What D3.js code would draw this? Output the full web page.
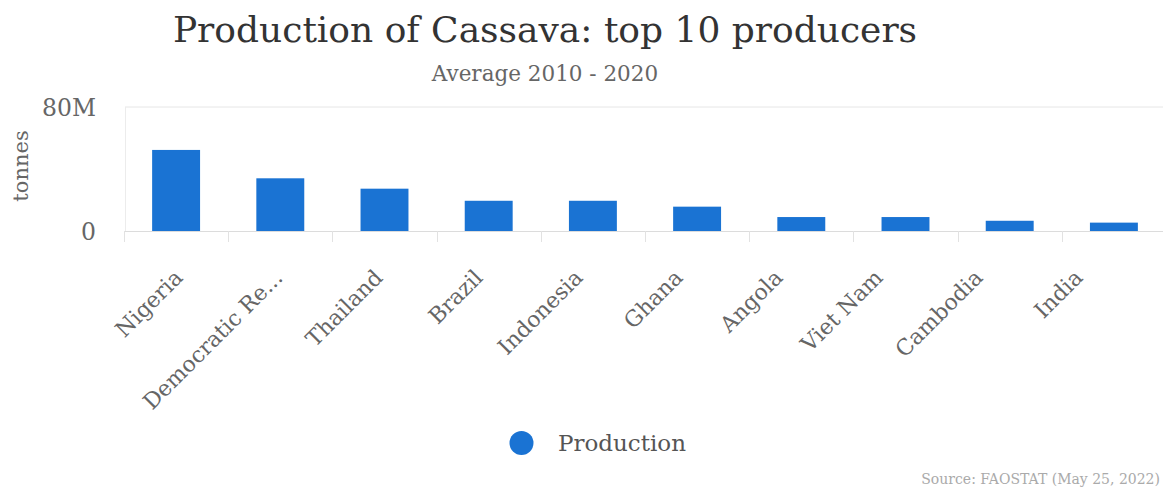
<!DOCTYPE html>
<html>
<head>
<meta charset="utf-8">
<script src="https://cdn.jsdelivr.net/npm/d3@7"></script>
<style>
  html, body { margin: 0; padding: 0; background: #fff; }
  svg { display: block; font-family: "DejaVu Serif", serif; }
</style>
</head>
<body>
<svg id="chart" width="1163" height="489"></svg>
<script>
// Average cassava production 2010-2020, top 10 producers (tonnes)
const countries = ["Nigeria", "Democratic Re...", "Thailand", "Brazil", "Indonesia",
                   "Ghana", "Angola", "Viet Nam", "Cambodia", "India"];
const production = [52300000, 34000000, 27300000, 19500000, 19500000,
                    15700000, 9000000, 9000000, 6600000, 5400000];
const yTicks = [0, 80000000];
const yTickLabels = ["0", "80M"];

const svg = d3.select("#chart");
const W = 1163;

const plot = { left: 124, right: 1166, top: 107, bottom: 231 };

const x = d3.scaleBand()
  .domain(countries)
  .range([plot.left, plot.right])
  .paddingInner(0.54)
  .paddingOuter(0.27);

// category labels sit on their own evenly spaced anchors
const labelX = d3.scalePoint()
  .domain(countries)
  .range([184, 1084]);

const y = d3.scaleLinear()
  .domain([0, 80000000])
  .range([plot.bottom, plot.top]);

// title & subtitle
svg.append("text")
  .attr("x", 545).attr("y", 42)
  .attr("text-anchor", "middle")
  .attr("font-size", 36)
  .attr("fill", "#333")
  .text("Production of Cassava: top 10 producers");

svg.append("text")
  .attr("x", 545).attr("y", 81)
  .attr("text-anchor", "middle")
  .attr("font-size", 21.5)
  .attr("fill", "#666")
  .text("Average 2010 - 2020");

// grid lines
svg.append("g")
  .selectAll("line")
  .data(yTicks.filter(d => d !== 0))
  .join("line")
  .attr("x1", plot.left + 1).attr("x2", W)
  .attr("y1", d => y(d)).attr("y2", d => y(d))
  .attr("stroke", "#e6e6e6").attr("stroke-width", 1);

// left plot edge
svg.append("line")
  .attr("x1", plot.left + 1.5).attr("x2", plot.left + 1.5)
  .attr("y1", plot.top).attr("y2", plot.bottom)
  .attr("stroke", "#ececec");

// y tick labels
svg.append("g")
  .selectAll("text")
  .data(yTicks)
  .join("text")
  .attr("x", 96)
  .attr("y", d => y(d) + 9)
  .attr("text-anchor", "end")
  .attr("font-size", 23.5)
  .attr("fill", "#666")
  .text((d, i) => yTickLabels[i]);

// y axis title
svg.append("text")
  .attr("transform", "translate(28,166) rotate(-90)")
  .attr("text-anchor", "middle")
  .attr("font-size", 21)
  .attr("fill", "#666")
  .text("tonnes");

// bars
svg.append("g")
  .selectAll("rect")
  .data(countries)
  .join("rect")
  .attr("x", d => x(d))
  .attr("width", x.bandwidth())
  .attr("y", (d, i) => y(production[i]))
  .attr("height", (d, i) => y(0) - y(production[i]))
  .attr("fill", "#1a73d3");

// x axis line and band ticks
const xAxis = svg.append("g");
xAxis.append("line")
  .attr("x1", plot.left).attr("x2", W)
  .attr("y1", plot.bottom + 0.5).attr("y2", plot.bottom + 0.5)
  .attr("stroke", "#dcdcdc");

xAxis.selectAll("line.tick")
  .data(countries)
  .join("line")
  .attr("class", "tick")
  .attr("x1", d => Math.round(x(d) - x.step() * x.paddingInner() / 2) + 0.5)
  .attr("x2", d => Math.round(x(d) - x.step() * x.paddingInner() / 2) + 0.5)
  .attr("y1", plot.bottom).attr("y2", plot.bottom + 11)
  .attr("stroke", "#e2e2e2");

// rotated category labels
xAxis.selectAll("text")
  .data(countries)
  .join("text")
  .attr("transform", d => `translate(${labelX(d)},279) rotate(-45)`)
  .attr("text-anchor", "end")
  .attr("font-size", 22)
  .attr("fill", "#666")
  .text(d => d);

// legend
const legend = svg.append("g");
legend.append("circle")
  .attr("cx", 521.5).attr("cy", 443)
  .attr("r", 12)
  .attr("fill", "#1a73d3");
legend.append("text")
  .attr("x", 558).attr("y", 451)
  .attr("font-size", 23)
  .attr("fill", "#555")
  .text("Production");

// source note
svg.append("text")
  .attr("x", 1160).attr("y", 484)
  .attr("text-anchor", "end")
  .attr("font-size", 14)
  .attr("fill", "#aaa")
  .text("Source: FAOSTAT (May 25, 2022)");
</script>
</body>
</html>
